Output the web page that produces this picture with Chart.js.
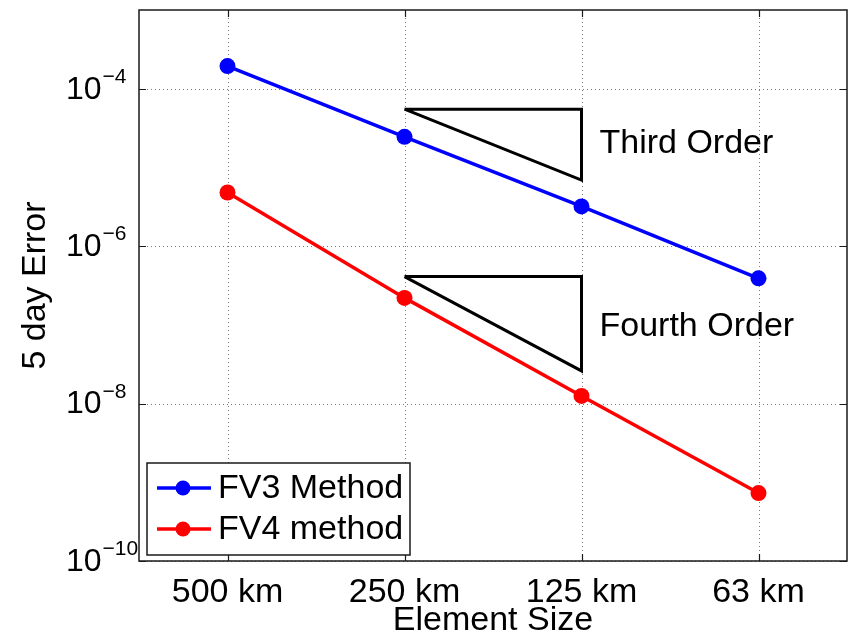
<!DOCTYPE html>
<html>
<head>
<meta charset="utf-8">
<script src="https://cdn.jsdelivr.net/npm/chart.js@4/dist/chart.umd.min.js"></script>
<style>
  html, body { margin: 0; padding: 0; background: #fff; }
  #wrap { width: 855px; height: 635px; }
</style>
</head>
<body>
<div id="wrap"><canvas id="c" width="855" height="635"></canvas></div>
<script>
// ---- data ----
const categories = ['500 km', '250 km', '125 km', '63 km'];
const fv3 = [1.94e-4, 2.45e-5, 3.2e-6, 3.9e-7];
const fv4 = [4.8e-6, 2.2e-7, 1.25e-8, 7.3e-10];
const seriesLabels = ['FV3 Method', 'FV4 method'];
const yTickValues = [1e-10, 1e-8, 1e-6, 1e-4];
const yTickExponents = ['\u221210', '\u22128', '\u22126', '\u22124'];
// slope triangles: [x-start, x-end], [top, bottom]
const thirdTriX = ['250 km', '125 km'];
const thirdTriY = [5.5e-5, 6.9e-6];
const fourthTriX = ['250 km', '125 km'];
const fourthTriY = [4.1e-7, 2.6e-8];
const annoLabels = ['Third Order', 'Fourth Order'];
const annoY = [2.0e-5, 9.4e-8];
const annoX = ['125 km', '125 km'];

const FONT = '"Liberation Sans", Arial, Helvetica, sans-serif';

function triangle(xs, ys) {
  return [
    { x: xs[0], y: ys[0] },
    { x: xs[1], y: ys[0] },
    { x: xs[1], y: ys[1] },
    { x: xs[0], y: ys[0] }
  ];
}

const frame = {
  id: 'frame',
  beforeDatasetsDraw(chart) {
    const { ctx, chartArea: a } = chart;
    const xs = chart.scales.x, ys = chart.scales.y;
    ctx.save();
    ctx.strokeStyle = '#777';
    ctx.lineWidth = 1;
    ctx.setLineDash([1, 3]);
    categories.forEach((c, i) => {
      const px = Math.round(xs.getPixelForValue(i)) + 0.5;
      ctx.beginPath();
      ctx.moveTo(px, a.top); ctx.lineTo(px, a.bottom);
      ctx.stroke();
    });
    yTickValues.forEach(v => {
      const py = Math.round(ys.getPixelForValue(v)) + 0.5;
      ctx.beginPath();
      ctx.moveTo(a.left, py); ctx.lineTo(a.right, py);
      ctx.stroke();
    });
    ctx.restore();
  },
  afterDatasetsDraw(chart) {
    const { ctx, chartArea: a } = chart;
    const xs = chart.scales.x, ys = chart.scales.y;
    ctx.save();
    ctx.strokeStyle = '#1a1a1a';
    ctx.lineWidth = 1.5;
    ctx.strokeRect(a.left, a.top, a.right - a.left, a.bottom - a.top);
    ctx.lineWidth = 1.2;
    const tl = 7;
    categories.forEach((c, i) => {
      const px = Math.round(xs.getPixelForValue(i)) + 0.5;
      ctx.beginPath();
      ctx.moveTo(px, a.bottom); ctx.lineTo(px, a.bottom - tl);
      ctx.moveTo(px, a.top); ctx.lineTo(px, a.top + tl);
      ctx.stroke();
    });
    yTickValues.forEach(v => {
      const py = Math.round(ys.getPixelForValue(v)) + 0.5;
      ctx.beginPath();
      ctx.moveTo(a.left, py); ctx.lineTo(a.left + tl, py);
      ctx.moveTo(a.right, py); ctx.lineTo(a.right - tl, py);
      ctx.stroke();
    });
    ctx.restore();
  },
  afterDraw(chart) {
    const { ctx, chartArea: a } = chart;
    const xs = chart.scales.x, ys = chart.scales.y;
    ctx.save();
    ctx.fillStyle = '#000';
    // y tick labels 10^n
    yTickValues.forEach((v, i) => {
      const py = ys.getPixelForValue(v);
      ctx.font = '32px ' + FONT;
      ctx.textAlign = 'left';
      ctx.textBaseline = 'middle';
      ctx.fillText('10', 66, py + 1);
      const w = ctx.measureText('10').width;
      ctx.font = '21px ' + FONT;
      ctx.textBaseline = 'alphabetic';
      ctx.fillText(yTickExponents[i], 66 + w + 1, py - 6);
    });
    // annotations
    ctx.font = '34px ' + FONT;
    ctx.textAlign = 'left';
    ctx.textBaseline = 'middle';
    annoLabels.forEach((t, i) => {
      const px = xs.getPixelForValue(categories.indexOf(annoX[i])) + 18;
      const py = ys.getPixelForValue(annoY[i]);
      ctx.fillText(t, px, py);
    });
    // legend
    const lx = 147, ly = 463, lw = 263, lh = 92;
    ctx.fillStyle = '#fff';
    ctx.fillRect(lx, ly, lw, lh);
    ctx.strokeStyle = '#1a1a1a';
    ctx.lineWidth = 1.5;
    ctx.strokeRect(lx, ly, lw, lh);
    const items = chart.data.datasets.filter(d => seriesLabels.includes(d.label));
    items.forEach((d, i) => {
      const cy = ly + 25 + i * 41;
      ctx.strokeStyle = d.borderColor;
      ctx.lineWidth = 3.5;
      ctx.beginPath();
      ctx.moveTo(lx + 10, cy); ctx.lineTo(lx + 64, cy);
      ctx.stroke();
      ctx.fillStyle = d.backgroundColor;
      ctx.beginPath();
      ctx.arc(lx + 36, cy, 7.5, 0, Math.PI * 2);
      ctx.fill();
      ctx.fillStyle = '#000';
      ctx.font = '34px ' + FONT;
      ctx.textBaseline = 'middle';
      ctx.fillText(d.label, lx + 71, cy + 1);
    });
    ctx.restore();
  }
};

new Chart(document.getElementById('c'), {
  type: 'line',
  data: {
    labels: categories,
    datasets: [
      { label: seriesLabels[0], data: fv3, borderColor: '#0000ff', backgroundColor: '#0000ff',
        borderWidth: 3.5, pointRadius: 8, pointHoverRadius: 8, pointBorderWidth: 0 },
      { label: seriesLabels[1], data: fv4, borderColor: '#ff0000', backgroundColor: '#ff0000',
        borderWidth: 3.5, pointRadius: 8, pointHoverRadius: 8, pointBorderWidth: 0 },
      { label: 'tri3', data: triangle(thirdTriX, thirdTriY), borderColor: '#000', backgroundColor: '#000',
        borderWidth: 3, pointRadius: 0, borderJoinStyle: 'miter' },
      { label: 'tri4', data: triangle(fourthTriX, fourthTriY), borderColor: '#000', backgroundColor: '#000',
        borderWidth: 3, pointRadius: 0, borderJoinStyle: 'miter' }
    ]
  },
  options: {
    responsive: false,
    animation: false,
    events: [],
    layout: { padding: { top: 10, right: 2, left: 0, bottom: 0 } },
    plugins: { legend: { display: false }, tooltip: { enabled: false } },
    scales: {
      x: {
        type: 'category',
        offset: true,
        grid: { display: false, offset: false },
        border: { display: false },
        ticks: { color: '#000', font: { size: 34, family: FONT }, padding: 3, maxRotation: 0, autoSkip: false },
        title: { display: true, text: 'Element Size', color: '#000', font: { size: 34, family: FONT }, padding: { top: 0, bottom: -6 } },
        afterFit(s) { s.height = 74; s.paddingLeft = 0; s.paddingRight = 0; }
      },
      y: {
        type: 'logarithmic',
        min: 1e-10,
        max: 1e-3,
        afterBuildTicks(s) { s.ticks = yTickValues.map(v => ({ value: v })); },
        grid: { display: false },
        border: { display: false },
        ticks: { display: false },
        title: { display: true, text: '5 day Error', color: '#000', font: { size: 34, family: FONT }, padding: { top: 15, bottom: 0 } },
        afterFit(s) { s.width = 139; s.paddingTop = 0; s.paddingBottom = 0; }
      }
    }
  },
  plugins: [frame]
});
</script>
</body>
</html>
